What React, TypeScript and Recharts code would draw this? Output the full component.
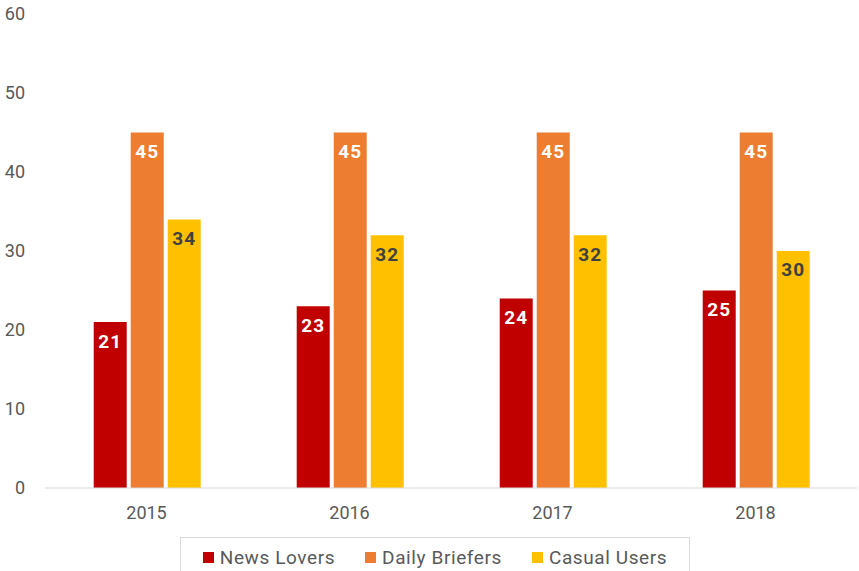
import { BarChart, Bar, XAxis, YAxis, Legend, LabelList } from "recharts";

const years = ["2015", "2016", "2017", "2018"];
const newsLovers = [21, 23, 24, 25];
const dailyBriefers = [45, 45, 45, 45];
const casualUsers = [34, 32, 32, 30];
const yTicks = [0, 10, 20, 30, 40, 50, 60];

const seriesList = [
  { key: "newsLovers", name: "News Lovers", color: "#C00000", labelColor: "#ffffff" },
  { key: "dailyBriefers", name: "Daily Briefers", color: "#ED7D31", labelColor: "#ffffff" },
  { key: "casualUsers", name: "Casual Users", color: "#FFC000", labelColor: "#404040" },
];

const data = years.map((year, i) => ({
  year,
  newsLovers: newsLovers[i],
  dailyBriefers: dailyBriefers[i],
  casualUsers: casualUsers[i],
}));

const font = "Roboto, 'DejaVu Sans', sans-serif";

function LegendBox() {
  return (
    <div
      style={{
        marginLeft: 180,
        width: 510,
        height: 40,
        border: "1px solid #d9d9d9",
        display: "flex",
        alignItems: "center",
        justifyContent: "center",
        gap: 30,
        fontFamily: font,
        fontSize: 19,
        letterSpacing: 0.6,
        color: "#595959",
        boxSizing: "border-box",
      }}
    >
      {seriesList.map((s) => (
        <span key={s.key} style={{ display: "flex", alignItems: "center" }}>
          <span
            style={{ width: 11, height: 11, background: s.color, marginRight: 6, display: "inline-block" }}
          />
          {s.name}
        </span>
      ))}
    </div>
  );
}

export default function App() {
  return (
    <div style={{ position: "absolute", left: 0, top: 0, width: 859, height: 571, background: "#fff" }}>
      <BarChart
        width={859}
        height={571}
        data={data}
        margin={{ top: 14, right: 2, left: 0, bottom: 0 }}
        barCategoryGap="24%"
        barGap={4}
      >
        <XAxis
          dataKey="year"
          height={49}
          tickLine={false}
          axisLine={{ stroke: "#d9d9d9" }}
          tick={{ fill: "#595959", fontSize: 18, fontFamily: font }}
          tickMargin={12}
        />
        <YAxis
          width={45}
          domain={[0, 60]}
          ticks={yTicks}
          axisLine={false}
          tickLine={false}
          tick={{ fill: "#595959", fontSize: 18, fontFamily: font }}
          tickMargin={14}
        />
        <Legend verticalAlign="bottom" height={34} content={() => <LegendBox />} />
        {seriesList.map((s) => (
          <Bar key={s.key} dataKey={s.key} name={s.name} fill={s.color} isAnimationActive={false}>
            <LabelList
              dataKey={s.key}
              position="insideTop"
              offset={12}
              fill={s.labelColor}
              fontSize={19}
              fontWeight="bold"
              letterSpacing={1}
              fontFamily={font}
            />
          </Bar>
        ))}
      </BarChart>
    </div>
  );
}
